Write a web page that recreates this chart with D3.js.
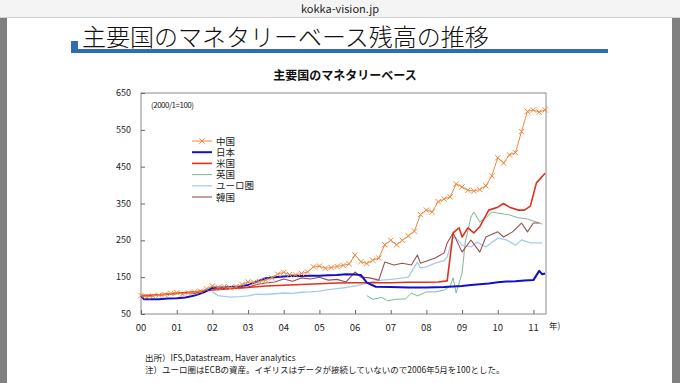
<!DOCTYPE html>
<html>
<head>
<meta charset="utf-8">
<script src="https://cdn.jsdelivr.net/npm/d3@7"></script>
<style>
  body { margin: 0; background: #fff; }
  text { font-family: "Noto Sans CJK JP", "Noto Sans", sans-serif; }
</style>
</head>
<body>
<div class="chart"></div>
<script>
// year tick labels
const yearLabels = ["00", "01", "02", "03", "04", "05", "06", "07", "08", "09", "10", "11"];
const yTicks = [50, 150, 250, 350, 450, 550, 650];

// series: [month, index]
const china = [
    ["2000-01", 100], ["2000-03", 97], ["2000-05", 99], ["2000-07", 101], ["2000-09", 103], ["2000-11", 106],
    ["2001-01", 108], ["2001-03", 104], ["2001-05", 107], ["2001-07", 110], ["2001-09", 112], ["2001-11", 118],
    ["2002-01", 126], ["2002-03", 122], ["2002-05", 124], ["2002-07", 121], ["2002-09", 124], ["2002-11", 130],
    ["2003-01", 137], ["2003-03", 136], ["2003-05", 138], ["2003-07", 142], ["2003-09", 148], ["2003-11", 158],
    ["2004-01", 163], ["2004-03", 157], ["2004-05", 156], ["2004-07", 160], ["2004-09", 164], ["2004-11", 178],
    ["2005-01", 180], ["2005-03", 174], ["2005-05", 176], ["2005-07", 179], ["2005-09", 182], ["2005-11", 186],
    ["2006-01", 210], ["2006-03", 192], ["2006-05", 187], ["2006-07", 196], ["2006-09", 202], ["2006-11", 238],
    ["2007-01", 250], ["2007-03", 238], ["2007-05", 250], ["2007-07", 262], ["2007-09", 275], ["2007-11", 320],
    ["2008-01", 332], ["2008-03", 327], ["2008-05", 355], ["2008-07", 362], ["2008-09", 368], ["2008-11", 403],
    ["2009-01", 395], ["2009-03", 386], ["2009-05", 384], ["2009-07", 388], ["2009-09", 398], ["2009-11", 425],
    ["2010-01", 474], ["2010-03", 460], ["2010-05", 482], ["2010-07", 488], ["2010-09", 545], ["2010-11", 600],
    ["2011-01", 604], ["2011-03", 598], ["2011-05", 604]
];
const japan = [
    ["2000-01", 100], ["2000-02", 90], ["2000-07", 90], ["2000-10", 92],
    ["2001-01", 93], ["2001-04", 95], ["2001-07", 100], ["2001-10", 108],
    ["2002-01", 121], ["2002-04", 122], ["2002-07", 123], ["2002-10", 125],
    ["2003-01", 129], ["2003-04", 138], ["2003-07", 147], ["2003-10", 150],
    ["2004-01", 152], ["2004-04", 153], ["2004-07", 153], ["2004-10", 154],
    ["2005-01", 154], ["2005-04", 155], ["2005-07", 156], ["2005-10", 158],
    ["2006-01", 157], ["2006-03", 156], ["2006-05", 135], ["2006-08", 124],
    ["2007-01", 123], ["2007-07", 122], ["2008-01", 122], ["2008-07", 123],
    ["2009-01", 126], ["2009-04", 129], ["2009-07", 131], ["2009-10", 133],
    ["2010-01", 136], ["2010-04", 138], ["2010-07", 139], ["2010-10", 141],
    ["2011-01", 142], ["2011-03", 167], ["2011-04", 158], ["2011-05", 160]
];
const usa = [
    ["2000-01", 100], ["2000-07", 102], ["2001-01", 106], ["2001-07", 110],
    ["2002-01", 115], ["2002-07", 119], ["2003-01", 122], ["2003-07", 126],
    ["2004-01", 128], ["2004-07", 130], ["2005-01", 132], ["2005-07", 134],
    ["2006-01", 135], ["2006-07", 135], ["2007-01", 135], ["2007-07", 136],
    ["2008-01", 136], ["2008-05", 137], ["2008-08", 140], ["2008-10", 270],
    ["2008-12", 284], ["2009-01", 259], ["2009-03", 284], ["2009-05", 270],
    ["2009-07", 287], ["2009-10", 332], ["2010-01", 340], ["2010-03", 350],
    ["2010-05", 340], ["2010-08", 332], ["2010-10", 332], ["2010-12", 343],
    ["2011-02", 406], ["2011-05", 432]
];
const uk = [
    ["2006-05", 100], ["2006-07", 90], ["2006-10", 95], ["2006-12", 86],
    ["2007-03", 90], ["2007-06", 91], ["2007-08", 107], ["2007-10", 99],
    ["2008-01", 110], ["2008-04", 110], ["2008-07", 115], ["2008-09", 126],
    ["2008-10", 148], ["2008-11", 107], ["2009-01", 161], ["2009-02", 243],
    ["2009-04", 313], ["2009-05", 327], ["2009-07", 300], ["2009-09", 311],
    ["2009-11", 327], ["2010-01", 324], ["2010-05", 319], ["2010-08", 311],
    ["2010-11", 308], ["2011-04", 294]
];
const euro = [
    ["2002-01", 110], ["2002-03", 100], ["2002-07", 96], ["2002-10", 97],
    ["2003-01", 99], ["2003-04", 104], ["2003-07", 103], ["2003-10", 105],
    ["2004-01", 107], ["2004-04", 106], ["2004-07", 109], ["2004-10", 110],
    ["2005-01", 112], ["2005-04", 116], ["2005-07", 119], ["2005-10", 122],
    ["2006-01", 126], ["2006-04", 132], ["2006-07", 138], ["2006-10", 142],
    ["2007-01", 144], ["2007-04", 147], ["2007-07", 150], ["2007-10", 191],
    ["2007-11", 175], ["2008-01", 178], ["2008-04", 188], ["2008-07", 195],
    ["2008-08", 205], ["2008-10", 259], ["2008-11", 256], ["2009-01", 237],
    ["2009-04", 232], ["2009-06", 245], ["2009-09", 232], ["2010-01", 256],
    ["2010-04", 251], ["2010-07", 237], ["2010-09", 251], ["2010-12", 243],
    ["2011-04", 243]
];
const korea = [
    ["2000-01", 100], ["2000-04", 98], ["2000-07", 102], ["2000-10", 104],
    ["2001-01", 106], ["2001-04", 108], ["2001-07", 106], ["2001-10", 112],
    ["2002-01", 120], ["2002-04", 118], ["2002-07", 124], ["2002-10", 121],
    ["2003-01", 123], ["2003-04", 130], ["2003-07", 134], ["2003-10", 137],
    ["2004-01", 145], ["2004-04", 139], ["2004-07", 148], ["2004-10", 145],
    ["2005-01", 150], ["2005-04", 142], ["2005-07", 144], ["2005-10", 137],
    ["2006-01", 164], ["2006-03", 150], ["2006-06", 148], ["2006-09", 142],
    ["2006-11", 191], ["2007-02", 183], ["2007-05", 188], ["2007-08", 183],
    ["2007-10", 210], ["2007-11", 188], ["2008-04", 202], ["2008-07", 216],
    ["2008-08", 243], ["2008-10", 270], ["2009-01", 218], ["2009-04", 251],
    ["2009-07", 218], ["2009-09", 259], ["2010-01", 273], ["2010-03", 259],
    ["2010-06", 273], ["2010-09", 297], ["2010-11", 273], ["2011-01", 297],
    ["2011-03", 297]
];

const seriesNames = ["中国", "日本", "米国", "英国", "ユーロ圏", "韓国"];
const seriesData = [china, japan, usa, uk, euro, korea];
const seriesColors = ["#f0883e", "#1010c8", "#e0301e", "#80b890", "#a6cbef", "#9a4e4e"];
const seriesWidths = [1, 2, 1.6, 1, 1.3, 1.1];

const W = 680, H = 383;
const svg = d3.select(".chart").append("svg")
    .attr("width", W)
    .attr("height", H);

// page frame (browser bar + slide edges)
svg.append("rect").attr("x", 0).attr("y", 0).attr("width", W).attr("height", 17).attr("fill", "#f4f4f4");
svg.append("line").attr("x1", 0).attr("x2", W).attr("y1", 17.5).attr("y2", 17.5).attr("stroke", "#d0d0d0");
svg.append("text").attr("x", W / 2).attr("y", 12.5).attr("text-anchor", "middle")
    .style("font-size", "11px").attr("fill", "#222").text("kokka-vision.jp");
svg.append("rect").attr("x", 0).attr("y", 18).attr("width", 7).attr("height", H - 18).attr("fill", "#808080");
svg.append("rect").attr("x", 672).attr("y", 18).attr("width", 8).attr("height", H - 18).attr("fill", "#808080");

// slide title
svg.append("rect").attr("x", 71).attr("y", 41).attr("width", 7).attr("height", 8).attr("fill", "#2e6db3");
svg.append("rect").attr("x", 71).attr("y", 49).attr("width", 537).attr("height", 4).attr("fill", "#2e6db3");
svg.append("text").attr("x", 82).attr("y", 46)
    .style("font-size", "24px").style("font-weight", "300").attr("fill", "#111")
    .text("主要国のマネタリーベース残高の推移");

// chart title
svg.append("text").attr("x", 345).attr("y", 80).attr("text-anchor", "middle")
    .style("font-size", "12px").style("font-weight", "bold").attr("fill", "#111")
    .text("主要国のマネタリーベース");

const plot = {left: 141, right: 546, top: 93, bottom: 314};
const parse = d3.timeParse("%Y-%m");

const x = d3.scaleTime()
    .domain([parse("2000-01"), new Date(2011, 4, 10)])
    .range([plot.left, plot.right]);
const y = d3.scaleLinear()
    .domain([50, 650])
    .range([plot.bottom, plot.top]);

// frame
svg.append("rect")
    .attr("x", plot.left).attr("y", plot.top)
    .attr("width", plot.right - plot.left).attr("height", plot.bottom - plot.top)
    .attr("fill", "none").attr("stroke", "#8a8a8a").attr("stroke-width", 1);

// y axis (ticks inside)
const yAxis = svg.append("g")
    .attr("transform", `translate(${plot.left},0)`)
    .call(d3.axisRight(y).tickValues(yTicks).tickSize(4).tickFormat(""));
yAxis.select(".domain").remove();
yAxis.selectAll("line").attr("stroke", "#666");
svg.selectAll(".ylab").data(yTicks).enter().append("text")
    .attr("x", 131).attr("y", d => y(d) + 3)
    .attr("text-anchor", "end")
    .style("font-size", "9px").attr("fill", "#222")
    .text(d => d);

// x axis (ticks inside)
const yearDates = yearLabels.map((d, i) => new Date(2000 + i, 0, 1));
const xAxis = svg.append("g")
    .attr("transform", `translate(0,${plot.bottom})`)
    .call(d3.axisTop(x).tickValues(yearDates).tickSize(4).tickFormat(""));
xAxis.select(".domain").remove();
xAxis.selectAll("line").attr("stroke", "#666");
svg.selectAll(".xlab").data(yearLabels).enter().append("text")
    .attr("x", (d, i) => x(yearDates[i]))
    .attr("y", 331)
    .attr("text-anchor", "middle")
    .style("font-size", "9.5px").attr("fill", "#222")
    .text(d => d);
svg.append("text").attr("x", 549).attr("y", 329)
    .style("font-size", "8.5px").attr("fill", "#222").text("年)");

svg.append("text").attr("x", 151).attr("y", 108)
    .style("font-size", "8px").attr("fill", "#222").attr("letter-spacing", "-0.5")
    .text("(2000/1=100)");

// lines
const line = d3.line()
    .x(d => x(parse(d[0])))
    .y(d => y(d[1]));

const order = [3, 4, 5, 2, 1, 0];
order.forEach(function (i) {
    svg.append("path")
        .datum(seriesData[i])
        .attr("d", line)
        .attr("fill", "none")
        .attr("stroke", seriesColors[i])
        .attr("stroke-width", seriesWidths[i])
        .attr("stroke-linejoin", "round");
});

// china x markers
const cross = d3.symbol().type(d3.symbolX).size(20);
svg.selectAll(".mk").data(china).enter().append("path")
    .attr("d", cross)
    .attr("transform", d => `translate(${x(parse(d[0]))},${y(d[1])})`)
    .attr("fill", "none")
    .attr("stroke", seriesColors[0])
    .attr("stroke-width", 1);

// legend
const legend = svg.append("g");
seriesNames.forEach(function (name, i) {
    const ly = 141 + i * 11.2;
    legend.append("line")
        .attr("x1", 192).attr("x2", 212).attr("y1", ly).attr("y2", ly)
        .attr("stroke", seriesColors[i]).attr("stroke-width", seriesWidths[i]);
    if (i === 0) {
        legend.append("path").attr("d", cross)
            .attr("transform", `translate(202,${ly})`)
            .attr("fill", "none").attr("stroke", seriesColors[0]);
    }
    legend.append("text")
        .attr("x", 216).attr("y", ly + 3.5)
        .style("font-size", "9.5px").attr("fill", "#222")
        .text(name);
});

// notes
svg.append("text").attr("x", 145).attr("y", 361)
    .style("font-size", "8.5px").attr("fill", "#222")
    .text("出所）IFS,Datastream, Haver analytics");
svg.append("text").attr("x", 145).attr("y", 373)
    .style("font-size", "8.5px").attr("fill", "#222")
    .text("注）ユーロ圏はECBの資産。イギリスはデータが接続していないので2006年5月を100とした。");
</script>
</body>
</html>
